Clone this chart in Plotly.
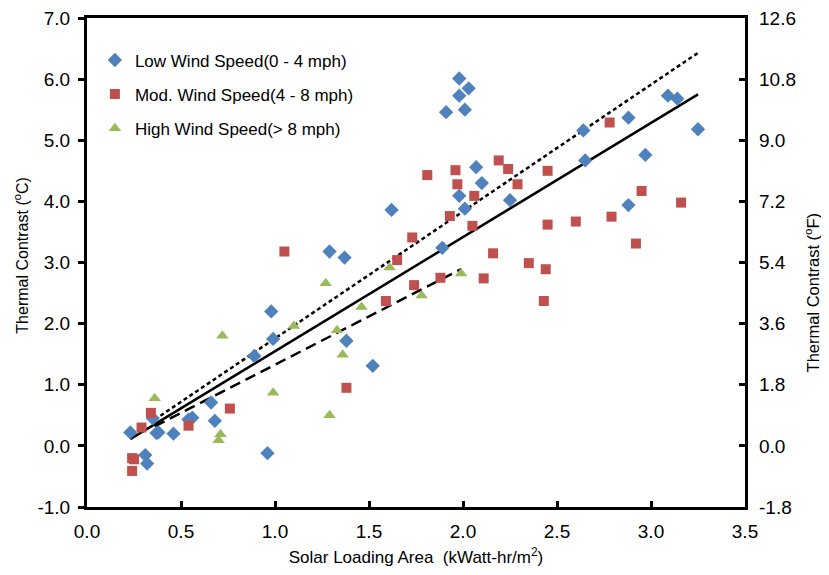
import plotly.graph_objects as go

# Low wind speed (0 - 4 mph)
low_x = [0.23, 0.31, 0.32, 0.35, 0.37, 0.38, 0.46, 0.54, 0.56, 0.66, 0.68, 0.89, 0.98, 0.99, 0.96,
         1.29, 1.37, 1.38, 1.52, 1.62, 1.89, 1.91, 1.98, 2.03, 1.98, 2.01, 2.07, 2.10, 1.98, 2.01,
         2.25, 2.64, 2.65, 2.88, 3.09, 3.14, 3.25, 2.97, 2.88]
low_y = [0.22, -0.15, -0.29, 0.45, 0.21, 0.22, 0.20, 0.43, 0.46, 0.71, 0.41, 1.47, 2.20, 1.75, -0.12,
         3.18, 3.08, 1.72, 1.31, 3.86, 3.24, 5.46, 6.01, 5.85, 5.73, 5.50, 4.56, 4.30, 4.09, 3.88,
         4.02, 5.16, 4.67, 5.37, 5.73, 5.68, 5.18, 4.76, 3.94]

# Moderate wind speed (4 - 8 mph)
mod_x = [0.24, 0.25, 0.24, 0.29, 0.34, 0.54, 0.76, 1.05, 1.38, 1.59, 1.65, 1.73, 1.74, 1.81, 1.88,
         1.93, 1.96, 1.97, 2.05, 2.06, 2.11, 2.16, 2.19, 2.24, 2.29, 2.35, 2.43, 2.44, 2.45, 2.45,
         2.60, 2.78, 2.79, 2.92, 2.95, 3.16]
mod_y = [-0.20, -0.22, -0.41, 0.30, 0.54, 0.33, 0.61, 3.18, 0.95, 2.37, 3.04, 3.41, 2.63, 4.43, 2.75,
         3.76, 4.51, 4.28, 3.60, 4.09, 2.74, 3.15, 4.67, 4.53, 4.28, 2.99, 2.37, 2.89, 4.50, 3.62,
         3.67, 5.29, 3.75, 3.31, 4.17, 3.98]

# High wind speed (> 8 mph)
high_x = [0.36, 0.70, 0.71, 0.72, 0.99, 1.10, 1.27, 1.29, 1.33, 1.36, 1.46, 1.61, 1.78, 1.99]
high_y = [0.78, 0.09, 0.19, 1.80, 0.87, 1.96, 2.66, 0.50, 1.89, 1.49, 2.27, 2.92, 2.46, 2.82]

# Trend line end points
trend_all_x = [0.23, 3.25]
trend_all_y = [0.11, 5.75]
trend_low_x = [0.36, 3.26]
trend_low_y = [0.43, 6.45]
trend_high_x = [0.36, 1.99]
trend_high_y = [0.32, 2.89]

x_ticks = [0.0, 0.5, 1.0, 1.5, 2.0, 2.5, 3.0, 3.5]
y_ticks = [-1.0, 0.0, 1.0, 2.0, 3.0, 4.0, 5.0, 6.0, 7.0]
y2_ticks = [-1.8, 0.0, 1.8, 3.6, 5.4, 7.2, 9.0, 10.8, 12.6]
C_TO_F_DIFF = 1.8  # a contrast of 1 degC equals 1.8 degF

BLUE = "#4F81BD"
RED = "#C0504D"
GREEN = "#9BBB59"
FONT = "Liberation Sans, Arial, sans-serif"

fig = go.Figure()

fig.add_trace(go.Scatter(x=trend_low_x, y=trend_low_y, mode="lines", showlegend=False,
                         line=dict(color="black", width=2.5, dash="4px,3px")))
fig.add_trace(go.Scatter(x=trend_all_x, y=trend_all_y, mode="lines", showlegend=False,
                         line=dict(color="black", width=2.5)))
fig.add_trace(go.Scatter(x=trend_high_x, y=trend_high_y, mode="lines", showlegend=False,
                         line=dict(color="black", width=2.5, dash="11px,6px")))

fig.add_trace(go.Scatter(x=low_x, y=low_y, mode="markers", name="Low Wind Speed(0 - 4 mph)",
                         legendgroup="a",
                         marker=dict(symbol="diamond", size=11, color=BLUE)))
fig.add_trace(go.Scatter(x=mod_x, y=mod_y, mode="markers", name="Mod. Wind Speed(4 - 8 mph)",
                         legendgroup="b",
                         marker=dict(symbol="square", size=10, color=RED)))
fig.add_trace(go.Scatter(x=high_x, y=high_y, mode="markers", name="High Wind Speed(> 8 mph)",
                         legendgroup="c",
                         marker=dict(symbol="triangle-up", size=11, color=GREEN)))

# invisible copy of the low-wind data in degF so the secondary axis is drawn
fig.add_trace(go.Scatter(x=low_x, y=[v * C_TO_F_DIFF for v in low_y], yaxis="y2",
                         mode="markers", showlegend=False, hoverinfo="skip",
                         marker=dict(opacity=0, size=1)))

fig.update_layout(
    width=813, height=559,
    margin=dict(l=79, r=76, t=10, b=60, autoexpand=False),
    paper_bgcolor="white", plot_bgcolor="white",
    font=dict(family=FONT, color="black", size=16),
    legend=dict(x=0.012, y=0.95, xanchor="left", yanchor="top",
                bgcolor="rgba(0,0,0,0)", font=dict(size=17, family=FONT),
                tracegroupgap=9, itemwidth=30),
    xaxis=dict(range=[0, 3.5], tickvals=x_ticks, ticktext=[f"{v:.1f}" for v in x_ticks],
               ticks="inside", ticklen=6, tickwidth=2.5, tickcolor="black",
               showline=True, linewidth=3, linecolor="black", mirror=True,
               showgrid=False, zeroline=False, tickfont=dict(size=19), automargin=False,
               ticklabelstandoff=5, ticklabeloverflow="allow",
               title=dict(text="Solar Loading Area  (kWatt-hr/m<sup>2</sup>)", font=dict(size=17),
                          standoff=11)),
    yaxis=dict(range=[-1, 7], tickvals=y_ticks, ticktext=[f"{v:.1f}" for v in y_ticks],
               ticks="outside", ticklen=6, tickwidth=2.5, tickcolor="black",
               showline=True, linewidth=3, linecolor="black", mirror=True,
               showgrid=False, zeroline=False, tickfont=dict(size=19), automargin=False,
               ticklabelstandoff=4, ticklabeloverflow="allow"),
    yaxis2=dict(range=[-1.8, 12.6], overlaying="y", side="right",
                tickvals=y2_ticks, ticktext=[f"{v:.1f}" for v in y2_ticks],
                ticks="inside", ticklen=6, tickwidth=2.5, tickcolor="black",
                showline=False, showgrid=False, zeroline=False, tickfont=dict(size=19),
                automargin=False, ticklabelstandoff=13, ticklabeloverflow="allow"),
    annotations=[
        dict(text="Thermal Contrast (<sup>o</sup>C)", xref="paper", yref="paper",
             x=-0.1003, y=0.514, textangle=-90, showarrow=False,
             xanchor="center", yanchor="middle", font=dict(size=16)),
        dict(text="Thermal Contrast (<sup>o</sup>F)", xref="paper", yref="paper",
             x=1.102, y=0.439, textangle=-90, showarrow=False,
             xanchor="center", yanchor="middle", font=dict(size=16.5)),
    ],
)

fig.write_html("out.html")
